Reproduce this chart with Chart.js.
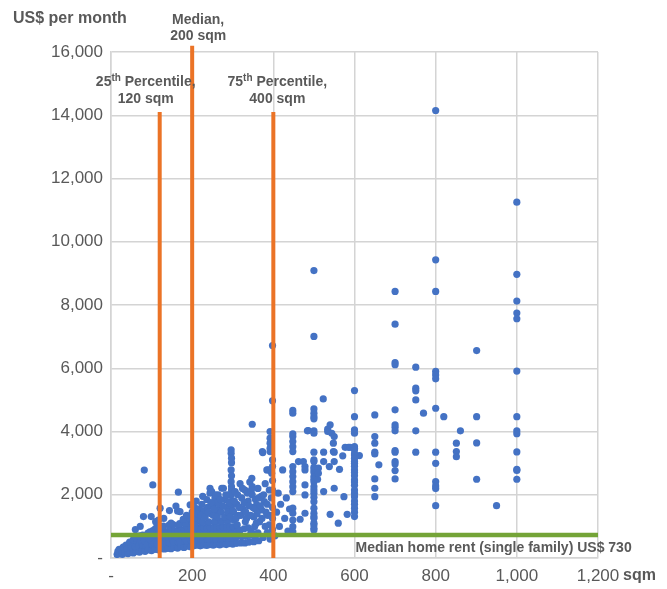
<!DOCTYPE html>
<html>
<head>
<meta charset="utf-8">
<script src="https://cdn.jsdelivr.net/npm/chart.js@4"></script>
<style>
  html, body { margin: 0; padding: 0; background: #fff; }
  #wrap { width: 667px; height: 589px; position: relative; }
</style>
</head>
<body>
<div id="wrap"><canvas id="c"></canvas></div>
<script>
'use strict';

// [size in sqm, rent in US$ per month]
const smallHomes = [
  [15,110],[17,210],[22,140],[20,275],[28,115],[26,235],[30,345],[35,160],[33,295],[37,405],
  [42,140],[40,290],[44,430],[48,185],[50,330],[46,505],[55,160],[53,325],[57,460],[55,580],
  [62,210],[60,355],[64,520],[61,640],[70,185],[68,360],[72,515],[70,700],[77,240],[79,395],
  [75,565],[78,725],[84,210],[86,385],[82,545],[85,705],[92,255],[90,430],[94,610],[91,790],
  [100,235],[102,415],[98,580],[101,770],[103,870],[108,275],[106,455],[110,625],[107,810],[109,925],
  [116,260],[114,445],[118,630],[117,780],[113,970],[124,295],[126,465],[122,655],[125,820],[127,990],
  [132,285],[130,455],[134,640],[133,830],[129,1005],[140,305],[142,495],[138,675],[141,845],[143,1040],
  [148,295],[146,485],[150,650],[149,855],[145,1015],[156,335],[154,505],[158,695],[157,865],[153,1060],
  [164,315],[166,505],[162,675],[165,855],[167,1035],[172,355],[170,525],[174,715],[173,885],[169,1085],
  [180,335],[182,525],[178,695],[181,885],[183,1055],[179,1215],[188,375],[186,545],[190,735],[189,905],
  [185,1095],[196,355],[198,545],[194,715],[197,905],[199,1075],[193,1255],[204,385],[202,555],[206,745],
  [205,915],[201,1105],[212,405],[210,575],[214,765],[213,935],[209,1125],[215,1295],[220,385],[222,575],
  [218,745],[221,925],[223,1115],[228,415],[226,585],[230,775],[229,945],[225,1135],[231,1345],[236,395],
  [238,585],[234,755],[237,945],[239,1115],[244,425],[242,595],[246,785],[245,955],[241,1145],[247,1395],
  [252,405],[254,595],[250,765],[253,955],[255,1125],[260,435],[258,605],[262,795],[261,965],[257,1155],
  [263,1455],[268,415],[270,605],[266,775],[269,965],[271,1135],[276,445],[274,615],[278,805],[277,975],
  [273,1165],[284,425],[286,615],[282,785],[285,975],[287,1145],[292,455],[290,625],[294,815],[293,985],
  [300,435],[302,625],[298,795],[301,985],[303,1195],[310,465],[308,645],[312,845],[311,1045],[320,475],
  [322,675],[318,875],[330,475],[332,685],[328,925],[331,1145],[340,505],[342,715],[338,955],[352,515],
  [350,765],[354,995],[364,545],[362,795]
];

const midHomes = [
  [60,900],[72,1000],[80,1310],[82,2780],[96,830],[99,1310],[103,2310],[110,1150],[117,1200],[121,1575],
  [130,1250],[144,1500],[148,1100],[160,1645],[164,1490],[166,2080],[170,1465],[178,1225],[186,1350],[195,1680],
  [200,1450],[206,1600],[210,1800],[218,1550],[224,1700],[230,1500],[236,1850],[244,2205],[244,2050],[248,2100],
  [250,1650],[256,1900],[262,1750],[264,1995],[268,1550],[273,2205],[277,2205],[282,1850],[286,1600],[290,2000],
  [296,3420],[296,3315],[297,3155],[297,3015],[296,2785],[297,2600],[296,2415],[297,2255],[297,2150],[296,1995],
  [297,1800],[297,1650],[302,1450],[306,2100],[310,1700],[314,1350],[318,2350],[322,1900],[326,1550],[330,2150],
  [334,1250],[338,1800],[342,2400],[347,2520],[348,2255],[348,1995],[348,4230],[350,1600],[352,1300],[356,1850],
  [359,1680],[362,2200],[366,1150],[370,1950],[371,1520],[373,3365],[374,3335],[378,1780],[380,2350],[384,2785],
  [386,1350],[388,2785],[390,1050],[392,4000],[392,3790],[392,3630],[392,3470],[392,3365],[395,1900],[396,2680],
  [398,4970],[398,6720],[398,2450],[398,2150],[398,1600],[398,1250],[398,900],[398,3100],[398,2900],
  [205,1250],[214,1400],[222,1350],[226,1950],[232,1300],[238,1600],[240,1450],[246,1750],[252,1350],[254,1550],
  [258,2000],[262,1300],[266,1700],[270,1850],[272,1450],[276,1650],[280,1300],[283,2000],[288,1450],[292,1750],
  [294,1300],[300,1500],[304,1800],[308,1250],[312,2000],[316,1600],[320,1350],[324,2200],[328,1750],[332,1450],
  [336,2050],[340,1650],[344,1350],[346,2150],[355,1550],[360,1400],[364,1900],[368,1650],[376,2000],[382,1450],
  [385,1700],[390,2150],[394,1350],[358,1100],[372,1250],[380,1000],[385,800],[392,600],[375,650],[345,850],
  [355,650],
  [404,700],[408,1450],[412,2050],[415,1000],[418,1700],[423,2785],[428,1250],[432,1900],[436,850],[440,1550],
  [448,4665],[448,4580],[448,3925],[448,3840],[448,3680],[448,3520],[448,3365],[448,2890],[448,2730],[448,2575],
  [448,2415],[448,2255],[448,2100],[448,1575],[448,1415],[448,1200],[448,990],[448,830],
  [462,3050],[474,3050],[478,2890],[478,2785],[478,2310],[478,1995],[478,1415],[466,1225],[484,4020],[486,4030]
];

const largeHomes = [
  [500,9090],[500,7005],[500,4715],[500,4580],[500,4470],[500,4400],[500,4020],[500,3945],[500,3345],[500,3100],
  [500,3050],[500,2870],[500,2785],[500,2700],[500,2575],[500,2490],[500,2415],[500,2255],[500,2150],[500,2050],
  [500,1920],[500,1780],[500,1575],[500,1415],[500,1310],[500,1255],[500,1100],[500,1045],[500,940],[500,885],
  [509,2490],[511,2840],[511,2680],[523,5030],[524,3345],[524,3050],[524,2100],[534,4075],[534,4000],[540,4210],
  [540,1380],[538,2890],[544,3945],[548,3365],[548,3630],[550,3840],[550,3345],[550,3050],[550,2205],[560,1100],
  [563,2805],[571,3230],[574,1940],[577,3500],[582,1380],[585,3500],[589,3500],[612,3240],
  [600,5295],[600,4470],[600,4050],[600,3945],[600,3520],[600,3470],[600,3420],[600,3300],[600,3260],[600,3150],
  [600,3050],[600,2995],[600,2900],[600,2785],[600,2700],[600,2600],[600,2470],[600,2400],[600,2300],[600,2150],
  [600,2050],[600,1940],[600,1800],[600,1700],[600,1575],[600,1450],[600,1310],
  [650,4525],[650,3840],[650,3630],[650,3345],[650,3290],[650,2500],[650,2205],[650,1940],[660,2945],
  [700,8430],[700,7395],[700,6180],[700,6110],[700,4685],[700,4210],[700,4135],[700,4020],[700,3395],[700,3345],
  [700,3050],[700,2975],[700,2765],[700,2500],
  [751,6035],[751,5370],[751,5285],[751,5000],[751,4020],[751,3345],[770,4580],[820,4470],
  [800,14150],[800,9430],[800,8430],[800,5900],[800,5790],[800,5665],[800,4735],[800,3345],[800,2995],[800,2415],
  [800,2280],[800,2195],[800,1655],
  [851,3630],[851,3365],[851,3205],[861,4020],[901,6560],[901,4470],[901,3640],[901,2490],[950,1655],
  [1000,11250],[1000,8970],[1000,8125],[1000,7745],[1000,7565],[1000,5910],[1000,4470],[1000,4020],[1000,3930],
  [1000,3355],[1000,2800],[1000,2770],[1000,2490]
];

const xTicks = [0, 200, 400, 600, 800, 1000, 1200];
const yTicks = [0, 2000, 4000, 6000, 8000, 10000, 12000, 14000, 16000];

const percentileSqm = [120, 200, 400];
const percentileTop = [14100, 16200, 14100];
const percentileLead = ['25', 'Median,', '75'];
const percentileTail = [' Percentile,', '', ' Percentile,'];
const percentileSize = ['120 sqm', '200 sqm', '400 sqm'];
const medianRent = 730;
const medianRentLabel = 'Median home rent (single family) US$ 730';

const GREY = '#595959';
const GRID = '#d4d4d4';
const BLUE = '#4472C4';
const ORANGE = '#EB7326';
const GREEN = '#74A437';
const FONT = '"Liberation Sans", Arial, sans-serif';

const fmt = v => v === 0 ? '-' : Number(v).toLocaleString('en-US');
const toPts = arr => arr.map(p => ({ x: p[0], y: p[1] }));

const allHomes = toPts(smallHomes.concat(midHomes, largeHomes));

const percentileSets = percentileSqm.map((s, i) => ({
  type: 'line',
  data: [{ x: s, y: 0 }, { x: s, y: percentileTop[i] }],
  borderColor: ORANGE, borderWidth: 4, pointRadius: 0, fill: false,
  clip: false, order: 1
}));

const medianSet = {
  type: 'line',
  data: [{ x: xTicks[0], y: medianRent }, { x: xTicks[xTicks.length - 1], y: medianRent }],
  borderColor: GREEN, borderWidth: 4.5, pointRadius: 0, fill: false, clip: false, order: 2
};

const notes = {
  id: 'notes',
  afterDraw(chart) {
    const { ctx, scales: { x, y } } = chart;
    ctx.save();
    ctx.fillStyle = GREY;
    ctx.textBaseline = 'alphabetic';

    ctx.font = 'bold 16px ' + FONT;
    ctx.textAlign = 'left';
    ctx.fillText('US$ per month', 13, 23);
    ctx.fillText('sqm', x.right + 25, 580);

    // percentile captions
    const dx = [-14, 6, 4];
    const base = [86, 23.5, 86];
    percentileSqm.forEach((s, i) => {
      const cx = x.getPixelForValue(s) + dx[i];
      const b = base[i];
      ctx.font = 'bold 14px ' + FONT;
      const lead = percentileLead[i], tail = percentileTail[i];
      const wl = ctx.measureText(lead).width;
      const wt = ctx.measureText(tail).width;
      let wsup = 0;
      if (tail) { ctx.font = 'bold 10px ' + FONT; wsup = ctx.measureText('th').width; }
      let left = cx - (wl + wsup + wt) / 2;
      ctx.textAlign = 'left';
      ctx.font = 'bold 14px ' + FONT;
      ctx.fillText(lead, left, b);
      if (tail) {
        ctx.font = 'bold 10px ' + FONT;
        ctx.fillText('th', left + wl, b - 5);
        ctx.font = 'bold 14px ' + FONT;
        ctx.fillText(tail, left + wl + wsup, b);
      }
      ctx.textAlign = 'center';
      ctx.fillText(percentileSize[i], cx, b + 16.5);
    });

    ctx.font = 'bold 14px ' + FONT;
    ctx.textAlign = 'left';
    ctx.fillText(medianRentLabel, x.getPixelForValue(600) + 1, y.getPixelForValue(medianRent) + 17);
    ctx.restore();
  }
};

new Chart(document.getElementById('c'), {
  type: 'scatter',
  data: {
    datasets: [
      { data: allHomes, backgroundColor: BLUE, borderWidth: 0, pointRadius: 3.6, pointHoverRadius: 3.6, order: 3 },
      medianSet,
      ...percentileSets
    ]
  },
  options: {
    responsive: true,
    maintainAspectRatio: false,
    animation: false,
    events: [],
    layout: { padding: { top: 52, right: 69, left: 0, bottom: 0 } },
    plugins: { legend: { display: false }, tooltip: { enabled: false } },
    scales: {
      x: {
        type: 'linear', min: xTicks[0], max: xTicks[xTicks.length - 1],
        afterBuildTicks: s => { s.ticks = xTicks.map(v => ({ value: v })); },
        afterFit: s => { s.height = 31; },
        grid: { color: GRID, lineWidth: 1.5, drawTicks: false },
        border: { color: GRID, width: 1.5 },
        ticks: { padding: 8, color: GREY, font: { family: FONT, size: 17 }, callback: fmt, maxRotation: 0 }
      },
      y: {
        type: 'linear', min: yTicks[0], max: yTicks[yTicks.length - 1],
        afterBuildTicks: s => { s.ticks = yTicks.map(v => ({ value: v })); },
        afterFit: s => { s.width = 111; },
        grid: { color: GRID, lineWidth: 1.5, drawTicks: false },
        border: { color: GRID, width: 1.5 },
        ticks: { padding: 8, color: GREY, font: { family: FONT, size: 17 }, callback: fmt }
      }
    }
  },
  plugins: [notes]
});
</script>
</body>
</html>
